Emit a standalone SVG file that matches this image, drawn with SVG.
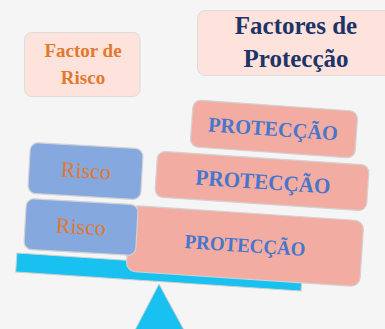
<svg xmlns="http://www.w3.org/2000/svg" width="385" height="329" viewBox="0 0 385 329">
<style>
.bg{fill:#f5f5f5}
.lt{fill:#fde3db;stroke:#dcdcdc;stroke-width:1}
.pk{fill:#f3aca1;stroke:#d2d2d2;stroke-width:1.2}
.bl{fill:#85a8de;stroke:#d2d2d2;stroke-width:1.2}
.cy{fill:#18c1ef;stroke:#d0d0d0;stroke-width:1}
.t{font-family:"Liberation Serif","DejaVu Serif",serif;text-anchor:middle}
.or{fill:#e2782e}
.nv{fill:#1c3467;font-weight:bold}
.pb{fill:#4776cc;font-weight:bold}
</style>
<rect class="bg" x="0" y="0" width="385" height="329"/>
<g id="fulcrum">
<polygon class="cy" points="159,284 135,330 184,330"/>
</g>
<g id="beam">
<rect class="cy" x="16" y="262.5" width="286" height="19" transform="rotate(3.8 159 272)"/>
</g>
<g id="label-risco">
<rect class="lt" x="24.5" y="32.5" width="115.5" height="64" rx="7"/>
<text class="t or" x="83" y="57" font-size="19" font-weight="bold">Factor de</text>
<text class="t or" x="83" y="84" font-size="19" font-weight="bold">Risco</text>
</g>
<g id="label-proteccao">
<rect class="lt" x="197.5" y="10.5" width="194" height="65" rx="8"/>
<text class="t nv" x="296" y="34" font-size="25">Factores de</text>
<text class="t nv" x="296" y="67" font-size="25">Protecção</text>
</g>
<g id="protec3" transform="rotate(3.8 245 246)">
<rect class="pk" x="128" y="213" width="234" height="66" rx="9"/>
<text class="t pb" x="245" y="252" font-size="20" textLength="121" lengthAdjust="spacingAndGlyphs">PROTECÇÃO</text>
</g>
<g id="protec2" transform="rotate(3.8 262 181)">
<rect class="pk" x="156" y="158" width="212" height="46" rx="8"/>
<text class="t pb" x="263" y="189" font-size="22" textLength="135" lengthAdjust="spacingAndGlyphs">PROTECÇÃO</text>
</g>
<g id="protec1" transform="rotate(4 274 129)">
<rect class="pk" x="191.5" y="105.5" width="165" height="47" rx="8"/>
<text class="t pb" x="273" y="136" font-size="21" textLength="130" lengthAdjust="spacingAndGlyphs">PROTECÇÃO</text>
</g>
<g id="risco2" transform="rotate(3.3 81 227)">
<rect class="bl" x="25" y="201.5" width="112" height="51" rx="8"/>
<text class="t or" x="81" y="234" font-size="22">Risco</text>
</g>
<g id="risco1" transform="rotate(3.3 85 171)">
<rect class="bl" x="29" y="145.5" width="113" height="51" rx="8"/>
<text class="t or" x="86" y="178" font-size="22">Risco</text>
</g>
</svg>
